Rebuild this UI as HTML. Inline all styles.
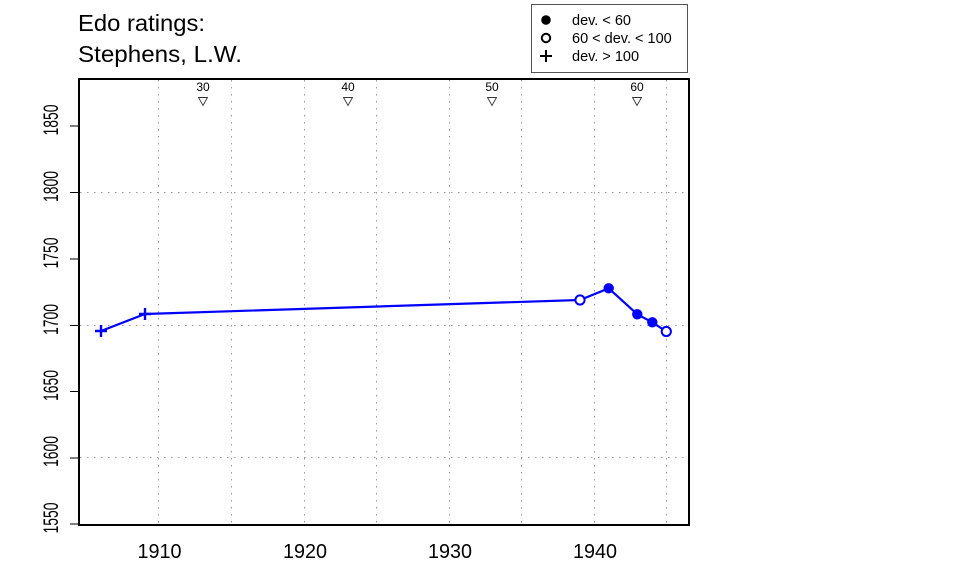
<!DOCTYPE html>
<html><head><meta charset="utf-8"><style>
html,body{margin:0;padding:0;background:#fff;}
svg{display:block;font-family:"Liberation Sans",Arial,sans-serif;}
</style></head><body>
<svg width="960" height="576" viewBox="0 0 960 576" xmlns="http://www.w3.org/2000/svg">
<rect width="960" height="576" fill="#fff"/>
<!-- title -->
<text x="78" y="31" font-size="23.5" fill="#000" textLength="127" lengthAdjust="spacingAndGlyphs">Edo ratings:</text>
<text x="78" y="62" font-size="23.5" fill="#000" textLength="164" lengthAdjust="spacingAndGlyphs">Stephens, L.W.</text>
<!-- legend -->
<rect x="531.5" y="4.5" width="156" height="68" fill="#fff" stroke="#555" stroke-width="1"/>
<circle cx="546" cy="20" r="4.8" fill="#000"/>
<circle cx="546" cy="38" r="4.2" fill="none" stroke="#000" stroke-width="2"/>
<path d="M540 56 H552 M546 50 V62" stroke="#000" stroke-width="2"/>
<text x="572" y="25" font-size="14.5">dev. &lt; 60</text>
<text x="572" y="43" font-size="14.5">60 &lt; dev. &lt; 100</text>
<text x="572" y="61" font-size="14.5">dev. &gt; 100</text>
<!-- grid -->
<g stroke="#999" stroke-width="1" stroke-dasharray="1.5 5.5">
<line x1="158.5" y1="80" x2="158.5" y2="524"/>
<line x1="231.5" y1="80" x2="231.5" y2="524"/>
<line x1="304.5" y1="80" x2="304.5" y2="524"/>
<line x1="376.5" y1="80" x2="376.5" y2="524"/>
<line x1="449.5" y1="80" x2="449.5" y2="524"/>
<line x1="521.5" y1="80" x2="521.5" y2="524"/>
<line x1="594.5" y1="80" x2="594.5" y2="524"/>
<line x1="666.5" y1="80" x2="666.5" y2="524"/>
<line x1="80" y1="192.5" x2="688" y2="192.5"/>
<line x1="80" y1="325.5" x2="688" y2="325.5"/>
<line x1="80" y1="457.5" x2="688" y2="457.5"/>
</g>
<!-- age markers -->
<g font-size="12" text-anchor="middle" fill="#000">
<text x="203" y="91">30</text>
<text x="348" y="91">40</text>
<text x="492" y="91">50</text>
<text x="637" y="91">60</text>
</g>
<g fill="none" stroke="#333" stroke-width="0.9">
<path d="M198.5 97.5 L207.5 97.5 L203 105.5 Z"/>
<path d="M343.5 97.5 L352.5 97.5 L348 105.5 Z"/>
<path d="M487.5 97.5 L496.5 97.5 L492 105.5 Z"/>
<path d="M632.5 97.5 L641.5 97.5 L637 105.5 Z"/>
</g>
<!-- plot frame -->
<rect x="79" y="79" width="610" height="446" fill="none" stroke="#000" stroke-width="2"/>
<!-- y ticks -->
<g stroke="#000" stroke-width="1">
<line x1="70" y1="126" x2="79" y2="126"/>
<line x1="70" y1="192.5" x2="79" y2="192.5"/>
<line x1="70" y1="259" x2="79" y2="259"/>
<line x1="70" y1="325.5" x2="79" y2="325.5"/>
<line x1="70" y1="391.5" x2="79" y2="391.5"/>
<line x1="70" y1="458" x2="79" y2="458"/>
<line x1="70" y1="524" x2="79" y2="524"/>
</g>
<g font-size="21" text-anchor="middle" fill="#000">
<text transform="translate(58,120) rotate(-90)" textLength="31" lengthAdjust="spacingAndGlyphs">1850</text>
<text transform="translate(58,186.5) rotate(-90)" textLength="31" lengthAdjust="spacingAndGlyphs">1800</text>
<text transform="translate(58,253) rotate(-90)" textLength="31" lengthAdjust="spacingAndGlyphs">1750</text>
<text transform="translate(58,319.5) rotate(-90)" textLength="31" lengthAdjust="spacingAndGlyphs">1700</text>
<text transform="translate(58,385.5) rotate(-90)" textLength="31" lengthAdjust="spacingAndGlyphs">1650</text>
<text transform="translate(58,451.5) rotate(-90)" textLength="31" lengthAdjust="spacingAndGlyphs">1600</text>
<text transform="translate(58,518) rotate(-90)" textLength="31" lengthAdjust="spacingAndGlyphs">1550</text>
</g>
<g font-size="20.5" text-anchor="middle" fill="#000">
<text x="159.5" y="558" textLength="44" lengthAdjust="spacingAndGlyphs">1910</text>
<text x="305" y="558" textLength="44" lengthAdjust="spacingAndGlyphs">1920</text>
<text x="450" y="558" textLength="44" lengthAdjust="spacingAndGlyphs">1930</text>
<text x="595" y="558" textLength="44" lengthAdjust="spacingAndGlyphs">1940</text>
</g>
<!-- series -->
<polyline points="101,331 145,314 580,300 608.7,288.3 637.3,314.3 652.3,322.3 666.3,331.5" fill="none" stroke="#0000ff" stroke-width="2.2" stroke-linejoin="round"/>
<g stroke="#0000ff" stroke-width="2.4">
<path d="M95 331 H107 M101 325 V337"/>
<path d="M139 314 H151 M145 308 V320"/>
</g>
<circle cx="580" cy="300" r="4.6" fill="#fff" stroke="#0000ff" stroke-width="2"/>
<circle cx="666.3" cy="331.5" r="4.6" fill="#fff" stroke="#0000ff" stroke-width="2"/>
<circle cx="608.7" cy="288.3" r="5.2" fill="#0000ff"/>
<circle cx="637.3" cy="314.3" r="5.2" fill="#0000ff"/>
<circle cx="652.3" cy="322.3" r="5.2" fill="#0000ff"/>
</svg>
</body></html>
